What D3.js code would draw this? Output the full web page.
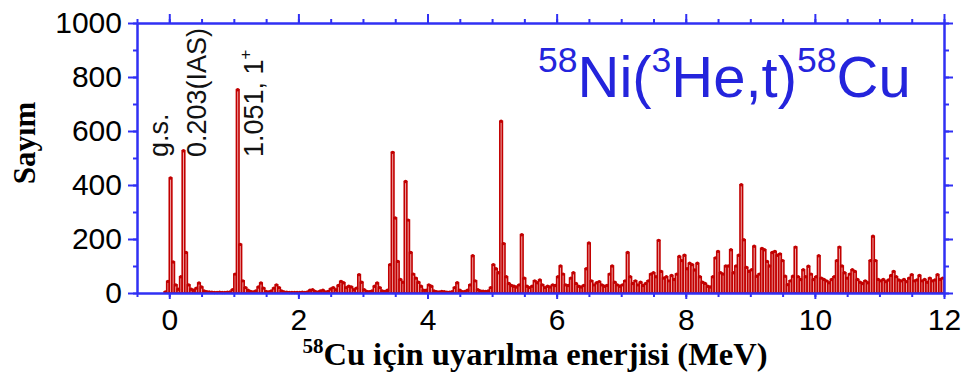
<!DOCTYPE html>
<html>
<head>
<meta charset="utf-8">
<script src="https://cdn.jsdelivr.net/npm/d3@7/dist/d3.min.js"></script>
<style>
  html, body { margin: 0; padding: 0; background: #fff; }
  svg { display: block; }
</style>
</head>
<body>
<svg id="chart" width="968" height="381"></svg>
<script>
// Histogram binning of the excitation-energy spectrum (MeV)
const BIN_START = -0.08;
const BIN_WIDTH = 0.04;

// Counts per bin; first row covers -0.08..0, then one row per MeV (25 bins)
const countsPre = [4, 43];
const counts0  = [426,115,30,14,60,527,150,30,14,10,18,37,22,8,5,4,3,2,2,3,2,2,3,4,12];
const counts1  = [70,753,180,45,20,10,6,4,8,22,37,18,6,4,8,18,30,20,8,4,3,2,2,2,2];
const counts2  = [2,3,2,4,10,12,6,3,8,10,4,6,15,20,12,28,43,38,20,25,22,12,18,68,40];
const counts3  = [12,6,5,8,25,37,20,8,6,10,105,521,278,117,50,40,413,270,150,70,55,40,25,10,10];
const counts4  = [30,25,8,5,4,6,5,3,3,5,20,38,10,5,6,10,30,138,45,12,8,7,6,8,20];
const counts5  = [105,90,75,636,183,60,35,28,25,22,30,216,55,25,20,25,45,38,48,30,20,25,22,30,28];
const counts6  = [60,100,70,30,28,55,75,35,25,22,28,90,185,45,30,38,42,30,25,28,70,100,40,30,25];
const counts7  = [30,45,150,60,35,45,30,40,28,35,45,70,75,60,195,80,55,60,45,65,50,70,135,120,140];
const counts8  = [90,110,105,85,110,60,40,35,25,22,60,130,154,75,70,100,100,160,75,100,140,401,197,95,80];
const counts9  = [86,173,62,70,165,160,117,100,150,154,140,145,120,62,31,45,62,170,60,50,86,60,99,70,50];
const counts10 = [60,138,55,50,45,38,50,60,120,170,100,75,55,70,86,80,50,40,35,45,38,120,210,120,50];
const counts11 = [45,50,42,48,65,80,60,48,45,50,42,55,68,45,48,65,45,50,40,55,45,48,68,50,55];

const counts = [].concat(countsPre, counts0, counts1, counts2, counts3, counts4, counts5,
  counts6, counts7, counts8, counts9, counts10, counts11);

// Axis ticks and labels
const xTickLabels = [0, 2, 4, 6, 8, 10, 12];
const yTickLabels = [0, 200, 400, 600, 800, 1000];
const xDomain = [-0.5, 12];
const yDomain = [0, 1000];

// Peak annotations: text, superscript, baseline x in px
const peakLabels = [
  { text: "g.s.", sup: "", bx: 168 },
  { text: "0.203(IAS)", sup: "", bx: 206 },
  { text: "1.051, 1", sup: "+", bx: 263 }
];

const AXIS_COLOR = "#3030f4";
const DATA_COLOR = "#c20000";
const FILL_COLOR = "#efa8a8";

const svg = d3.select("#chart");
const plotLeft = 137, plotRight = 944, plotTop = 23, plotBottom = 293;

const x = d3.scaleLinear().domain(xDomain).range([plotLeft, plotRight]);
const y = d3.scaleLinear().domain(yDomain).range([plotBottom, plotTop]);

const bins = counts.map((c, i) => ({
  x0: BIN_START + i * BIN_WIDTH,
  x1: BIN_START + (i + 1) * BIN_WIDTH,
  c: c
}));

// Spectrum bars
const plot = svg.append("g");
plot.selectAll("rect.bin")
  .data(bins)
  .join("rect")
  .attr("class", "bin")
  .attr("x", d => x(d.x0))
  .attr("width", d => x(d.x1) - x(d.x0))
  .attr("y", d => y(d.c))
  .attr("height", d => y(0) - y(d.c))
  .attr("fill", FILL_COLOR)
  .attr("stroke", DATA_COLOR)
  .attr("stroke-width", 1.6);

// Data-point markers
plot.selectAll("circle.pt")
  .data(bins)
  .join("circle")
  .attr("class", "pt")
  .attr("cx", d => x((d.x0 + d.x1) / 2))
  .attr("cy", d => y(d.c))
  .attr("r", 1.7)
  .attr("fill", DATA_COLOR);

// Axes
const xMinor = d3.range(xDomain[0], xDomain[1] + 0.001, 0.5);
const yMinor = d3.range(yDomain[0], yDomain[1] + 1, 100);

function styleAxis(g) {
  g.select(".domain").attr("stroke", AXIS_COLOR).attr("stroke-width", 2);
  g.selectAll(".tick line").attr("stroke", AXIS_COLOR).attr("stroke-width", 2);
  g.selectAll(".tick text")
    .attr("fill", "#000")
    .style("font-family", "'Liberation Sans', Arial, sans-serif")
    .style("font-size", "30px");
}

function addAxis(gen, tr) {
  const g = svg.append("g").attr("transform", tr).call(gen);
  styleAxis(g);
  return g;
}

// bottom
addAxis(d3.axisBottom(x).tickValues(xMinor).tickSize(4).tickSizeOuter(0).tickFormat(""), `translate(0,${plotBottom})`);
addAxis(d3.axisBottom(x).tickValues(xTickLabels).tickSize(6).tickSizeOuter(0).tickPadding(10).tickFormat(d3.format("d")), `translate(0,${plotBottom})`);
// top
addAxis(d3.axisTop(x).tickValues(xMinor).tickSize(4).tickSizeOuter(0).tickFormat(""), `translate(0,${plotTop})`);
addAxis(d3.axisTop(x).tickValues(xTickLabels).tickSize(9).tickSizeOuter(0).tickFormat(""), `translate(0,${plotTop})`);
// left
addAxis(d3.axisLeft(y).tickValues(yMinor).tickSize(4).tickSizeOuter(0).tickFormat(""), `translate(${plotLeft},0)`);
addAxis(d3.axisLeft(y).tickValues(yTickLabels).tickSize(9).tickSizeOuter(0).tickPadding(6).tickFormat(d3.format("d")), `translate(${plotLeft},0)`);
// right
addAxis(d3.axisRight(y).tickValues(yMinor).tickSize(5).tickSizeOuter(0).tickFormat(""), `translate(${plotRight},0)`);
addAxis(d3.axisRight(y).tickValues(yTickLabels).tickSize(9).tickSizeOuter(0).tickFormat(""), `translate(${plotRight},0)`);

// Peak annotations (vertical)
peakLabels.forEach(p => {
  const t = svg.append("text")
    .attr("transform", `translate(${p.bx},157) rotate(-90)`)
    .attr("fill", "#111")
    .style("font-family", "'Liberation Sans', Arial, sans-serif")
    .style("font-size", "27px")
    .text(p.text);
  if (p.sup) {
    t.append("tspan").attr("dy", -12).style("font-size", "17px").text(p.sup);
  }
});

// Reaction title
const title = svg.append("text")
  .attr("x", 538).attr("y", 97)
  .attr("fill", "#2424dc")
  .style("font-family", "'Liberation Sans', Arial, sans-serif")
  .style("font-size", "58px");
const supSize = "35.5px", rise = 25;
title.append("tspan").style("font-size", supSize).attr("dy", -rise).text("58");
title.append("tspan").attr("dy", rise).text("Ni(");
title.append("tspan").style("font-size", supSize).attr("dy", -rise).text("3");
title.append("tspan").attr("dy", rise).text("He,t)");
title.append("tspan").style("font-size", supSize).attr("dy", -rise).text("58");
title.append("tspan").attr("dy", rise).text("Cu");

// Axis titles
const serif = "'Liberation Serif', 'Times New Roman', serif";
const xTitle = svg.append("text")
  .attr("x", 535).attr("y", 365)
  .attr("text-anchor", "middle")
  .attr("fill", "#000")
  .style("font-family", serif)
  .style("font-weight", "bold")
  .style("font-size", "32.5px");
xTitle.append("tspan").style("font-size", "21px").attr("dy", -12).text("58");
xTitle.append("tspan").attr("dy", 12).text("Cu için uyarılma enerjisi (MeV)");

svg.append("text")
  .attr("transform", "translate(35,143) rotate(-90)")
  .attr("text-anchor", "middle")
  .attr("fill", "#000")
  .style("font-family", serif)
  .style("font-weight", "bold")
  .style("font-size", "31px")
  .text("Sayım");
</script>
</body>
</html>
